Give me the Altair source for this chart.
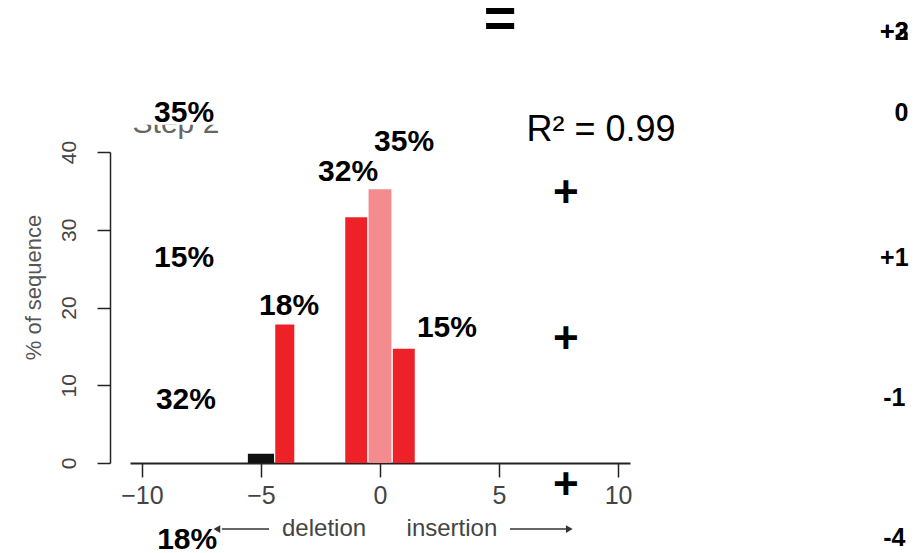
import altair as alt
import pandas as pd

# ---- histogram data ----
positions = [-5, -4, -1, 0, 1]
percent = [1.2, 17.8, 31.6, 35.2, 14.7]
bar_colors = ["#111111", "#ee2128", "#ee2128", "#f38b8f", "#ee2128"]
half_widths = [0.55, 0.40, 0.46, 0.48, 0.46]

x_ticks = [-10, -5, 0, 5, 10]
y_ticks = [0, 10, 20, 30, 40]

# ---- overlaid annotation texts ----
bold_labels = ["35%", "15%", "32%", "18%", "35%", "32%", "18%", "15%",
               "+", "+", "+", "=", "+2", "+3", "0", "+1", "-1", "-4"]
bold_x = [-8.23, -8.23, -8.15, -8.10, 1.01, -1.34, -3.82, 2.81,
          7.81, 7.81, 7.81, 5.04, 21.6, 21.6, 21.9, 21.6, 21.6, 21.6]
bold_y = [45.0, 26.4, 8.1, -9.9, 41.3, 37.4, 20.2, 17.4,
          34.6, 15.8, -2.9, 57.0, 55.4, 55.4, 45.0, 26.4, 8.4, -9.6]
bold_size = [30, 30, 30, 30, 30, 30, 30, 30,
             44, 44, 44, 56, 25, 25, 25, 25, 25, 25]

r2_text = ["R² = 0.99"]
r2_x = [9.28]
r2_y = [42.8]

axis_notes = ["deletion", "insertion"]
axis_notes_x = [-2.35, 3.02]
axis_notes_y = [-8.5, -8.5]

title_text = ["Step 2"]
title_x = [-8.57]
title_y = [42.4]

# white boxes pasted over the slide
box_x = [-12.55, 7.06]
box_x2 = [-5.88, 13.65]
box_y = [52.9, 56.5]
box_y2 = [43.5, 47.6]

# arrows beneath the axis
arrow_x = [-6.64, 5.46]
arrow_x2 = [-4.66, 7.81]
arrow_y = [-8.5, -8.5]
head_x = [-6.85, 7.95]
head_shape = ["triangle-left", "triangle-right"]

FONT = "Liberation Sans"

xscale = alt.Scale(domain=[-10.5, 10.5], nice=False, zero=False)
yscale = alt.Scale(domain=[0, 40], nice=False, zero=False)

xaxis = alt.Axis(values=x_ticks, title=None, grid=False,
                 domainColor="#222", domainWidth=2,
                 tickColor="#222", tickSize=14, tickWidth=1.5,
                 labelFont=FONT, labelFontSize=25, labelColor="#444",
                 labelPadding=6, labelFlush=False)
yaxis = alt.Axis(values=y_ticks, title="% of sequence", grid=False,
                 offset=20, domainColor="#222", domainWidth=1.5,
                 tickColor="#222", tickSize=13, tickWidth=1.5,
                 labelFont=FONT, labelFontSize=21, labelColor="#444",
                 labelAngle=270, labelAlign="center",
                 labelBaseline="bottom", labelPadding=18,
                 titleFont=FONT, titleFontSize=22, titleColor="#555",
                 titleFontWeight="normal", titlePadding=13, titleY=135)


def X(field):
    return alt.X(field, scale=xscale, axis=xaxis, title=None)


def Y(field):
    return alt.Y(field, scale=yscale, axis=yaxis, title="% of sequence")


bars_df = pd.DataFrame({
    "pos": positions,
    "pct": percent,
    "color": bar_colors,
    "x0": [p - h for p, h in zip(positions, half_widths)],
    "x1": [p + h for p, h in zip(positions, half_widths)],
})

bars = alt.Chart(bars_df).mark_bar(clip=False).encode(
    x=X("x0:Q"), x2="x1:Q",
    y=Y("pct:Q"), y2=alt.datum(0),
    color=alt.Color("color:N", scale=None),
)

title_df = pd.DataFrame({"t": title_text, "x": title_x, "y": title_y})
title_layer = alt.Chart(title_df).mark_text(
    font=FONT, fontSize=30, color="#666", baseline="alphabetic", align="center"
).encode(x=X("x:Q"), y=Y("y:Q"), text="t:N")

box_df = pd.DataFrame({"x": box_x, "x2": box_x2, "y": box_y, "y2": box_y2})
boxes = alt.Chart(box_df).mark_rect(color="#ffffff").encode(
    x=X("x:Q"), x2="x2:Q", y=Y("y:Q"), y2="y2:Q")

bold_df = pd.DataFrame({"t": bold_labels, "x": bold_x, "y": bold_y,
                        "s": bold_size})
bold_layer = alt.Chart(bold_df).mark_text(
    font=FONT, fontWeight="bold", color="#000", baseline="middle",
    align="center"
).encode(x=X("x:Q"), y=Y("y:Q"), text="t:N",
         size=alt.Size("s:Q", scale=None, legend=None))

r2_df = pd.DataFrame({"t": r2_text, "x": r2_x, "y": r2_y})
r2_layer = alt.Chart(r2_df).mark_text(
    font=FONT, fontSize=36, color="#000", baseline="middle", align="center"
).encode(x=X("x:Q"), y=Y("y:Q"), text="t:N")

notes_df = pd.DataFrame({"t": axis_notes, "x": axis_notes_x, "y": axis_notes_y})
notes_layer = alt.Chart(notes_df).mark_text(
    font=FONT, fontSize=24, color="#444", baseline="middle", align="center"
).encode(x=X("x:Q"), y=Y("y:Q"), text="t:N")

arrow_df = pd.DataFrame({"x": arrow_x, "x2": arrow_x2, "y": arrow_y})
arrows = alt.Chart(arrow_df).mark_rule(color="#333", strokeWidth=1.5).encode(
    x=X("x:Q"), x2="x2:Q", y=Y("y:Q"))

head_df = pd.DataFrame({"x": head_x, "y": arrow_y, "shape": head_shape})
heads = alt.Chart(head_df).mark_point(filled=True, color="#333", size=60,
                                      opacity=1).encode(
    x=X("x:Q"), y=Y("y:Q"),
    shape=alt.Shape("shape:N", scale=None, legend=None))

chart = alt.layer(
    bars, title_layer, boxes, r2_layer, notes_layer, arrows, heads, bold_layer
).properties(
    width=500, height=311,
    padding={"left": 122, "top": 144, "right": 284, "bottom": 90},
    autosize=alt.AutoSizeParams(type="none"),
    background="white",
).configure_view(stroke=None)

chart.save("out.html", embed_options={"renderer": "svg", "actions": False})
